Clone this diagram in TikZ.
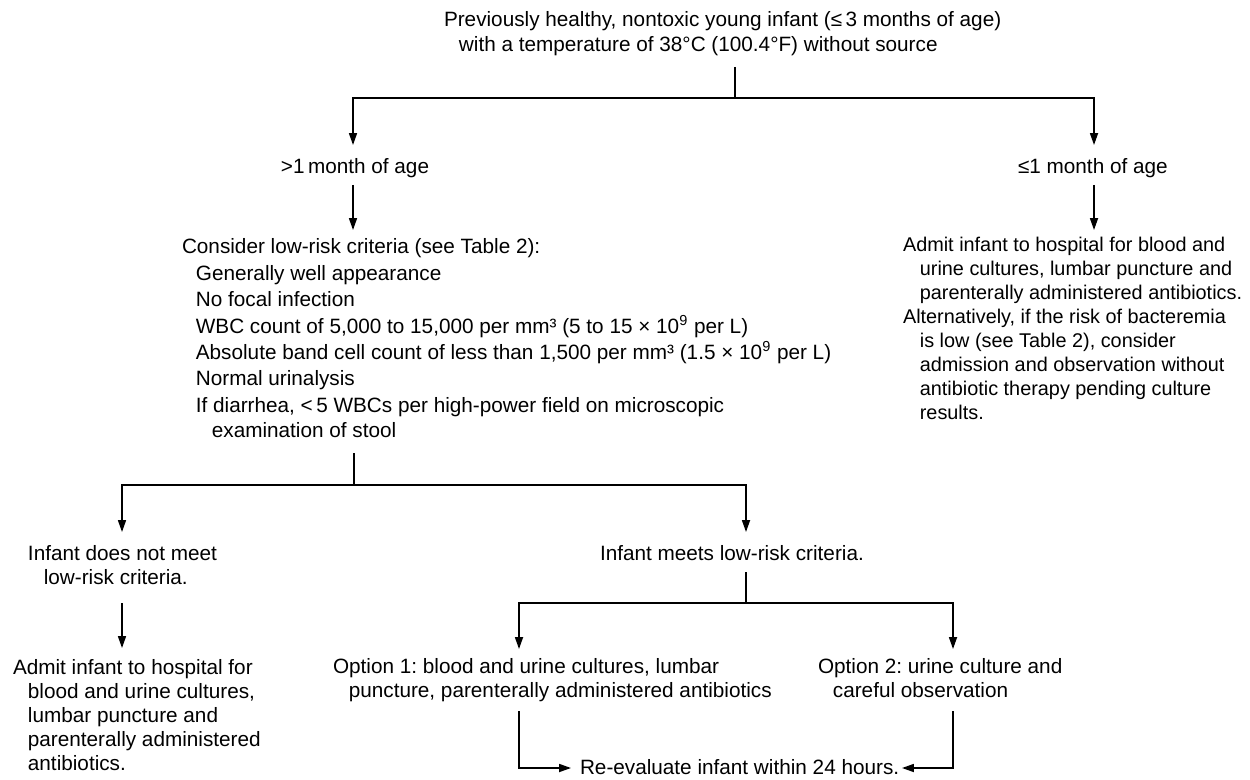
\documentclass[tikz,border=0pt]{standalone}
\usepackage{fontspec}
\setmainfont{Liberation Sans}
\usetikzlibrary{arrows.meta}
\newcommand\myfs{\fontsize{11.8pt}{13.6pt}\selectfont\frenchspacing}
\newcommand\myfsR{\fontsize{11.3pt}{13.6pt}\selectfont\frenchspacing}
\newcommand\tst{\rule{0pt}{10pt}}
\newcommand\ind[1]{\hspace*{#1}}
\begin{document}
\begin{tikzpicture}[x=0.02cm,y=-0.02cm,
  txt/.style={inner sep=0pt, outer sep=0pt, anchor=north west, align=left, font=\myfs},
  ctxt/.style={txt, anchor=north, align=center},
  ln/.style={line width=0.8pt},
  arr/.style={ln, -{Triangle[length=6.8pt,width=4.6pt]}}]
\useasboundingbox[fill=white] (0,0) rectangle (1250,780);

% text blocks
\node[txt] (title) at (444,9.4) {\tst Previously healthy, nontoxic young infant (≤\,3 months of age)\\[0.6pt]
  \ind{8.5pt}with a temperature of 38°C (100.4°F) without source};
\node[ctxt] (older) at (355,156.4) {\tst >1\,month of age};
\node[txt] (younger) at (1018,156.4) {\tst ≤1 month of age};
\node[txt] (crit) at (182,236.4) {\tst Consider low-risk criteria (see Table 2):\\[1.4pt]
  \ind{7.9pt}Generally well appearance\\[1.4pt]
  \ind{7.9pt}No focal infection\\[1.4pt]
  \ind{7.9pt}WBC count of 5,000 to 15,000 per mm³ (5 to 15 × 10\textsuperscript{9} per L)\\[1.4pt]
  \ind{7.9pt}Absolute band cell count of less than 1,500 per mm³ (1.5 × 10\textsuperscript{9} per L)\\[1.4pt]
  \ind{7.9pt}Normal urinalysis\\[1.4pt]
  \ind{7.9pt}If diarrhea, <\,5 WBCs per high-power field on microscopic\\[0.6pt]
  \ind{17pt}examination of stool};
\node[txt, font=\myfsR] (admitR) at (903,234.4) {\tst Admit infant to hospital for blood and\\
  \ind{9.6pt}urine cultures, lumbar puncture and\\
  \ind{9.6pt}parenterally administered antibiotics.\\
  Alternatively, if the risk of bacteremia\\
  \ind{9.6pt}is low (see Table 2), consider\\
  \ind{9.6pt}admission and observation without\\
  \ind{9.6pt}antibiotic therapy pending culture\\
  \ind{9.6pt}results.};
\node[txt] (notmeet) at (28,543.4) {\tst Infant does not meet\\ \ind{9pt}low-risk criteria.};
\node[txt] (meets) at (600,543.4) {\tst Infant meets low-risk criteria.};
\node[txt] (admitL) at (13,657.4) {\tst Admit infant to hospital for\\
  \ind{8.5pt}blood and urine cultures,\\
  \ind{8.5pt}lumbar puncture and\\
  \ind{8.5pt}parenterally administered\\
  \ind{8.5pt}antibiotics.};
\node[txt] (opt1) at (333,656.4) {\tst Option 1: blood and urine cultures, lumbar\\
  \ind{9pt}puncture, parenterally administered antibiotics};
\node[txt] (opt2) at (818,656.4) {\tst Option 2: urine culture and\\
  \ind{8.5pt}careful observation};
\node[txt] (reeval) at (580,757.4) {\tst Re-evaluate infant within 24 hours.};

% connector points
\coordinate (titleOut) at (735,67);
\coordinate (titleJ) at (735,98);
\coordinate (olderIn) at (353,145);
\coordinate (youngerIn) at (1094,145);
\coordinate (olderOut) at (353,185);
\coordinate (critIn) at (353,230);
\coordinate (youngerOut) at (1094,185);
\coordinate (admitRIn) at (1094,230);
\coordinate (critOut) at (354,453);
\coordinate (critJ) at (354,485);
\coordinate (notmeetIn) at (122,532);
\coordinate (meetsIn) at (746,532);
\coordinate (notmeetOut) at (122,603);
\coordinate (admitLIn) at (122,648);
\coordinate (meetsOut) at (746,572);
\coordinate (meetsJ) at (746,603);
\coordinate (opt1In) at (519,649);
\coordinate (opt2In) at (953,649);
\coordinate (opt1Out) at (519,711);
\coordinate (opt2Out) at (953,711);
\coordinate (reevalL) at (571,768);
\coordinate (reevalR) at (902,768);

% connectors
\draw[ln] (titleOut) -- (titleJ);
\draw[arr] (titleJ) -| (olderIn);
\draw[arr] (titleJ) -| (youngerIn);
\draw[arr] (olderOut) -- (critIn);
\draw[arr] (youngerOut) -- (admitRIn);
\draw[ln] (critOut) -- (critJ);
\draw[arr] (critJ) -| (notmeetIn);
\draw[arr] (critJ) -| (meetsIn);
\draw[arr] (notmeetOut) -- (admitLIn);
\draw[ln] (meetsOut) -- (meetsJ);
\draw[arr] (meetsJ) -| (opt1In);
\draw[arr] (meetsJ) -| (opt2In);
\draw[arr] (opt1Out) |- (reevalL);
\draw[arr] (opt2Out) |- (reevalR);
\end{tikzpicture}
\end{document}
